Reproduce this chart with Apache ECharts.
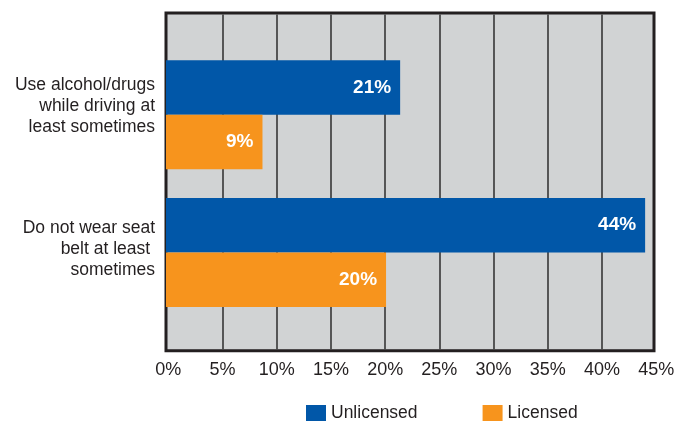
<!DOCTYPE html>
<html><head><meta charset="utf-8">
<script src="https://cdn.jsdelivr.net/npm/echarts@6/dist/echarts.min.js"></script>
<style>html,body{margin:0;padding:0;background:#fff}#c{width:694px;height:423px}</style>
</head><body><div id="c"></div>
<script>
const categories = ["Use alcohol/drugs\nwhile driving at\nleast sometimes", "Do not wear seat\nbelt at least \nsometimes"];
const unlicensed = [21.6, 44.2];
const licensed = [8.9, 20.3];
const unlicensedLabels = ["21%", "44%"];
const licensedLabels = ["9%", "20%"];
const seriesNames = ["Unlicensed", "Licensed"];
const tickMin = 0, tickMax = 45, tickStep = 5;

const FONT = '"Liberation Sans", Arial, sans-serif';
const TXT = '#231f20';
const chart = echarts.init(document.getElementById('c'), null, {renderer: 'canvas'});
const NB = {outerBoundsMode: 'none', containLabel: false};
chart.setOption({
  animation: false,
  backgroundColor: '#fff',
  textStyle: {fontFamily: FONT},
  grid: [
    Object.assign({left: 166, right: 40, top: 13, bottom: 72.3, show: true, backgroundColor: '#d1d3d4', borderColor: '#231f20', borderWidth: 3, z: 0}, NB),
    Object.assign({left: 166, right: 40.2, top: 45.8, bottom: 101.6}, NB),
    Object.assign({left: 166, right: 40, top: 35, bottom: 102.5}, NB),
    Object.assign({left: 168.3, right: 37.8, top: 14.5, bottom: 73.8}, NB)
  ],
  xAxis: [
    {gridIndex: 0, type: 'value', min: tickMin, max: tickMax, show: false},
    {gridIndex: 1, type: 'value', min: tickMin, max: tickMax, show: false},
    {gridIndex: 2, type: 'value', min: tickMin, max: tickMax, show: false},
    {gridIndex: 3, type: 'value', min: tickMin, max: tickMax, interval: tickStep,
     axisLine: {show: false}, axisTick: {show: false},
     splitLine: {show: true, showMinLine: false, showMaxLine: false, lineStyle: {color: '#363636', width: 1.6}},
     axisLabel: {formatter: v => v + '%', color: TXT, fontSize: 18, fontFamily: FONT, margin: 12}}
  ],
  yAxis: [
    {gridIndex: 0, type: 'value', show: false},
    {gridIndex: 1, type: 'category', data: categories, inverse: true, show: false},
    {gridIndex: 2, type: 'category', data: categories, inverse: true,
     axisLine: {show: false}, axisTick: {show: false}, splitLine: {show: false},
     axisLabel: {color: TXT, fontSize: 17.5, fontFamily: FONT, lineHeight: 21, margin: 11}},
    {gridIndex: 3, type: 'value', show: false}
  ],
  legend: {
    top: 404, left: 306, padding: 0, itemWidth: 20, itemHeight: 16, itemGap: 65,
    icon: 'rect', data: seriesNames,
    textStyle: {color: TXT, fontSize: 17.5, fontFamily: FONT, padding: [1,0,0,0]}
  },
  series: [
    {name: seriesNames[0], type: 'bar', xAxisIndex: 1, yAxisIndex: 1, data: unlicensed,
     barWidth: 54.5, barGap: '0%', itemStyle: {color: '#0157a8'},
     label: {show: true, position: 'insideRight', distance: 9, color: '#fff', fontWeight: 'bold', fontSize: 19, fontFamily: FONT,
       formatter: p => unlicensedLabels[p.dataIndex]}},
    {name: seriesNames[1], type: 'bar', xAxisIndex: 1, yAxisIndex: 1, data: licensed,
     barWidth: 54.5, barGap: '0%', itemStyle: {color: '#f7941d'},
     label: {show: true, position: 'insideRight', distance: 9, color: '#fff', fontWeight: 'bold', fontSize: 19, fontFamily: FONT,
       formatter: p => licensedLabels[p.dataIndex]}}
  ]
});
</script></body></html>
